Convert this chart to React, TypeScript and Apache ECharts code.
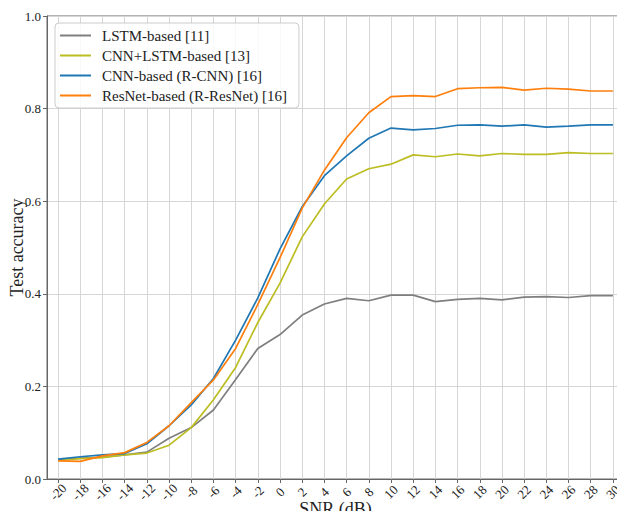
import React, { useEffect, useRef } from "react";
import * as echarts from "echarts";

const snr = [-20, -18, -16, -14, -12, -10, -8, -6, -4, -2, 0, 2, 4, 6, 8, 10, 12, 14, 16, 18, 20, 22, 24, 26, 28, 30];
const seriesNames = ["LSTM-based [11]", "CNN+LSTM-based [13]", "CNN-based (R-CNN) [16]", "ResNet-based (R-ResNet) [16]"];
const lstm = [0.041, 0.045, 0.047, 0.052, 0.058, 0.088, 0.111, 0.149, 0.215, 0.282, 0.312, 0.354, 0.378, 0.390, 0.385, 0.397, 0.397, 0.383, 0.388, 0.390, 0.387, 0.393, 0.394, 0.392, 0.396, 0.396];
const cnnLstm = [0.040, 0.044, 0.046, 0.052, 0.056, 0.073, 0.111, 0.171, 0.241, 0.338, 0.423, 0.523, 0.594, 0.648, 0.670, 0.680, 0.700, 0.696, 0.702, 0.698, 0.703, 0.701, 0.701, 0.705, 0.703, 0.703];
const rcnn = [0.043, 0.048, 0.052, 0.055, 0.076, 0.115, 0.160, 0.217, 0.300, 0.391, 0.497, 0.588, 0.655, 0.698, 0.736, 0.758, 0.754, 0.757, 0.764, 0.765, 0.762, 0.765, 0.760, 0.762, 0.765, 0.765];
const resnet = [0.039, 0.038, 0.050, 0.057, 0.079, 0.115, 0.165, 0.214, 0.282, 0.377, 0.478, 0.585, 0.667, 0.737, 0.791, 0.826, 0.828, 0.826, 0.843, 0.845, 0.846, 0.840, 0.844, 0.842, 0.838, 0.838];
const colors = ["#7f7f7f", "#bcbd22", "#1f77b4", "#ff7f0e"];
const yTicks = [0, 0.2, 0.4, 0.6, 0.8, 1.0];

const FONT = "Liberation Serif";

export default function App() {
  const ref = useRef<HTMLDivElement>(null);
  useEffect(() => {
    if (!ref.current) return;
    const chart = echarts.init(ref.current, undefined, { renderer: "svg" });
    const all = [lstm, cnnLstm, rcnn, resnet];
    chart.setOption({
      animation: false,
      textStyle: { fontFamily: FONT },
      grid: {
        left: 47,
        right: 1,
        top: 16,
        bottom: 40,
        show: true,
        borderColor: "#666",
        borderWidth: 1,
        backgroundColor: "transparent",
        containLabel: false,
        outerBoundsMode: "none",
      },
      legend: {
        orient: "vertical",
        left: 55,
        top: 23,
        padding: [5, 12, 5, 5],
        itemGap: 5,
        itemWidth: 31,
        itemHeight: 2,
        icon: "rect",
        backgroundColor: "rgba(255,255,255,0.85)",
        borderColor: "#ccc",
        borderWidth: 1,
        borderRadius: 4,
        textStyle: { fontFamily: FONT, fontSize: 15, color: "#222", padding: [0, 0, 0, 6] },
        data: seriesNames,
      },
      xAxis: {
        type: "value",
        min: -21,
        max: 31,
        name: "SNR (dB)",
        nameLocation: "middle",
        nameGap: 21,
        nameMoveOverlap: false,
        nameTextStyle: { fontFamily: FONT, fontSize: 18, color: "#222" },
        axisLine: { show: true, onZero: false, lineStyle: { color: "#666", width: 1 } },
        axisTick: { show: true, customValues: snr, length: 4, lineStyle: { color: "#666" } },
        axisLabel: {
          customValues: snr,
          rotate: 45,
          align: "center",
          verticalAlign: "middle",
          margin: 13,
          fontFamily: FONT,
          fontSize: 13,
          color: "#222",
          formatter: (v: number) => String(v),
        },
        splitLine: { show: true, lineStyle: { color: "#d6d6d6", width: 1 } },
      },
      yAxis: {
        type: "value",
        min: 0,
        max: 1,
        interval: 0.2,
        name: "Test accuracy",
        nameLocation: "middle",
        nameGap: 21,
        nameMoveOverlap: false,
        nameTextStyle: { fontFamily: FONT, fontSize: 18, color: "#222" },
        axisLine: { show: true, onZero: false, lineStyle: { color: "#666", width: 1 } },
        axisTick: { show: true, length: 4, lineStyle: { color: "#666" } },
        axisLabel: {
          fontFamily: FONT,
          fontSize: 13,
          color: "#222",
          margin: 6,
          formatter: (v: number) => (yTicks.includes(Math.round(v * 10) / 10) ? v.toFixed(1) : ""),
        },
        splitLine: { show: true, lineStyle: { color: "#d6d6d6", width: 1 } },
      },
      series: all.map((d, i) => ({
        name: seriesNames[i],
        type: "line",
        data: d.map((v, j) => [snr[j], v]),
        showSymbol: false,
        symbol: "none",
        lineStyle: { color: colors[i], width: 1.7 },
        itemStyle: { color: colors[i] },
        z: 2 + i,
      })),
    });
    return () => chart.dispose();
  }, []);
  return <div ref={ref} style={{ width: 625, height: 519, margin: -8 }} />;
}
